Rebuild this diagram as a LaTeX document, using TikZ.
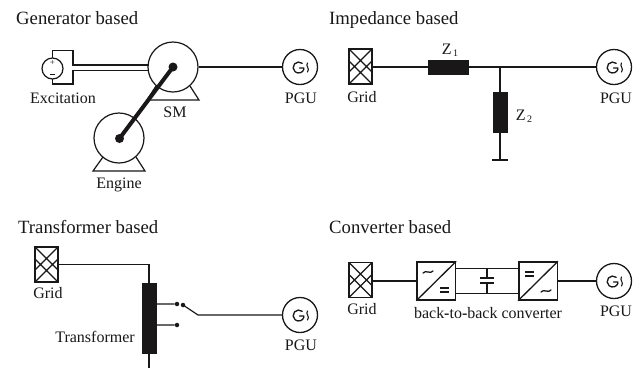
\documentclass[tikz,border=0pt]{standalone}
\usepackage{fontspec}
\setmainfont{Liberation Serif}
\definecolor{ink}{HTML}{1A1718}
\tikzset{
 x=1pt,y=-1pt,
 every node/.style={text=ink},
 wire/.style={draw=ink,line width=1.2pt},
 lab/.style={font=\fontsize{16}{18}\selectfont,inner sep=0pt,anchor=base},
 ttl/.style={font=\fontsize{18.7}{20}\selectfont,inner sep=0pt,anchor=base west},
 mach/.style={circle,draw=ink,line width=1.2pt,fill=white,minimum size=50pt,inner sep=0pt},
 basetri/.style={draw=ink,line width=1.2pt},
 hub/.style={circle,fill=ink,minimum size=9pt,inner sep=0pt},
 tap/.style={circle,fill=ink,minimum size=4.5pt,inner sep=0pt},
 zbox/.style={rectangle,fill=ink,draw=ink,inner sep=0pt},
 conv/.style={rectangle,draw=ink,line width=1.5pt,fill=white,minimum width=38.5pt,minimum height=38pt,inner sep=0pt},
 gridbox/.style={rectangle,draw=ink,line width=1.6pt,fill=white,minimum width=23pt,minimum height=35pt,inner sep=0pt,
  path picture={
   \draw[ink,line width=1.2pt]
    (path picture bounding box.north west)--++(23,23)
    (path picture bounding box.north east)--++(-23,23)
    (path picture bounding box.south west)--++(23,-23)
    (path picture bounding box.south east)--++(-23,-23);}},
 pgu/.style={circle,draw=ink,line width=1.3pt,fill=white,minimum size=35pt,inner sep=0pt},
 glyph/.style={draw=ink,line width=1.3pt,line cap=round},
}
\newcommand{\tildeat}[1]{\draw[glyph,shift={(#1)}] (-5,1) .. controls (-2.5,-2.5) and (2.5,2.5) .. (5,-1);}
\begin{document}
\begin{tikzpicture}
\useasboundingbox (0,0) rectangle (640,368);
\fill[white] (0,0) rectangle (640,368);
\node[ttl] (t1) at (16,24.5) {Generator based};
\node[ttl] (t2) at (329,24.5) {Impedance based};
\node[ttl] (t3) at (18,233) {Transformer based};
\node[ttl] (t4) at (329,233) {Converter based};
% Generator
\draw[basetri] (156,86)--(147,100)--(199,100)--(190,86);
\node[mach] (sm) at (173,67) {};
\draw[wire] (52.5,58)--(52.5,50.5)--(73,50.5)--(73,65)--(149,65)
            (52.5,79)--(52.5,84)--(73,84)--(73,70.5)--(149,70.5);
\node[circle,draw=ink,line width=1.2pt,fill=white,minimum size=21pt,inner sep=0pt] (exc) at (52.5,68.5) {};
\node[font=\fontsize{9}{9}\selectfont,inner sep=0pt] (pl) at (52.5,63) {+};
\draw[ink,line width=1pt] (50,74.5)--(55,74.5);
\draw[basetri] (103,157)--(93,171)--(145,171)--(136,157);
\node[mach] (eng) at (119,138) {};
\node[hub] (h1) at (173,67) {};
\node[hub] (h2) at (119.5,138.5) {};
\draw[ink,line width=4pt] (h1.center)--(h2.center);
\node[pgu] (p1) at (300,67) {};
\draw[wire] (sm)--(p1);
\node[lab] (lx) at (63,103.5) {Excitation};
\node[lab] (ls) at (175,117.5) {SM};
\node[lab] (le) at (119,188) {Engine};
\node[lab] (lp1) at (301,103.5) {PGU};
% Impedance
\node[gridbox] (g2) at (360.5,66.5) {};
\node[zbox,minimum width=40pt,minimum height=14pt] (z1) at (448.5,67) {};
\node[pgu] (p2) at (614,67) {};
\draw[wire] (g2.east|-z1)--(z1) (z1)--(p2);
\coordinate (j) at (500,67);
\node[zbox,minimum width=14pt,minimum height=40pt] (z2) at (500,112) {};
\coordinate (gnd) at (500,160);
\coordinate (gl) at (492,160);\coordinate (gr) at (508,160);
\draw[wire] (j)--(z2) (z2)--(gnd) (gl)--(gr);
\node[lab] (lg2) at (362,102) {Grid};
\node[lab] (lz1) at (450,54) {Z\raisebox{-2pt}{\fontsize{10}{10}\selectfont\,1}};
\node[lab] (lz2) at (524,120) {Z\raisebox{-2pt}{\fontsize{10}{10}\selectfont\,2}};
\node[lab] (lp2) at (616,103) {PGU};
% Transformer
\node[gridbox] (g3) at (46.5,264.5) {};
\node[zbox,minimum width=14pt,minimum height=70pt] (tr) at (149,318) {};
\coordinate (cn) at (149,264.5);
\coordinate (bot) at (149,368);
\draw[wire] (g3.east|-cn)--(cn)--(tr.north) (tr.south)--(bot);
\node[tap] (d1) at (177,304) {};
\node[tap] (d2) at (183,305) {};
\node[tap] (d3) at (177,325) {};
\coordinate (t1s) at (156,304);\coordinate (t2s) at (156,325);
\coordinate (sw) at (198,315);
\node[pgu] (p3) at (300,315) {};
\draw[wire] (t1s)--(d1) (t2s)--(d3) (d2.center)--(sw)--(p3);
\node[lab] (lg3) at (48,298.5) {Grid};
\node[lab] (ltr) at (95,342.5) {Transformer};
\node[lab] (lp3) at (301,350.5) {PGU};
% Converter
\node[gridbox] (g4) at (360.5,280) {};
\node[conv] (c1) at (436.25,281) {};
\node[conv] (c2) at (538,281) {};
\node[pgu] (p4) at (614,281) {};
\draw[wire] (g4.east|-c1)--(c1) (c2)--(p4);
\draw[ink,line width=1.3pt] (c1.south west)--(c1.north east) (c2.south west)--(c2.north east);
\draw[wire] (456,268.5)--(519,268.5) (456,293.5)--(519,293.5);
\coordinate (ca) at (487,268.5);\coordinate (cb) at (487,293.5);
\draw[wire] (ca)--(487,278) (487,283)--(cb) (480,278)--(494,278) (480,283)--(494,283);
\tildeat{428,272}
\draw[ink,line width=1.3pt] (440,288)--(449,288) (440,292)--(449,292);
\draw[ink,line width=1.3pt] (525,272)--(534,272) (525,276)--(534,276);
\tildeat{546,291}
\node[lab] (lg4) at (362,314.5) {Grid};
\node[lab] (lc) at (488,318) {back{\bfseries -}to{\bfseries -}back converter};
\node[lab] (lp4) at (616,316.5) {PGU};
% generator symbols
\foreach \c in {p1,p2,p3,p4}{
 \begin{scope}[shift={(\c.center)}]
  \draw[glyph] (2.2,-3.7) arc[start angle=-50,end angle=-340,radius=5.5] -- (3.7,1) -- (-0.5,1);
  \draw[ink,line width=1.1pt,line cap=round] (7.5,-4) .. controls (5,-1) and (10.5,1.5) .. (7.5,5);
 \end{scope}}
\end{tikzpicture}
\end{document}
